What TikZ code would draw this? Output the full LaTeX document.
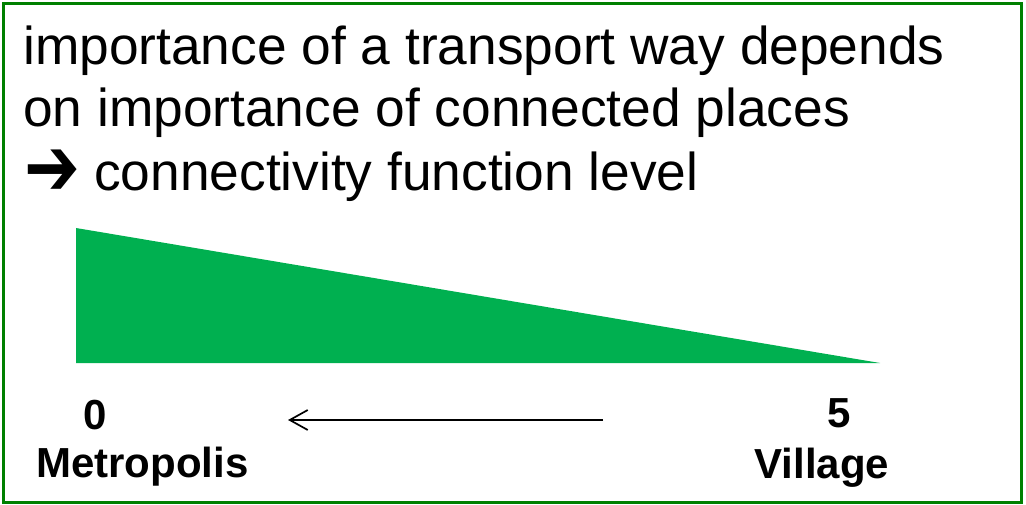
\documentclass[tikz,border=0pt]{standalone}
\usepackage{fontspec}
\setmainfont{Liberation Sans}
\newfontfamily\symfont{DejaVu Sans}
\usetikzlibrary{arrows.meta}
\definecolor{framegreen}{RGB}{0,128,0}
\definecolor{fillgreen}{RGB}{0,176,80}
\begin{document}
\begin{tikzpicture}[x=1pt,y=-1pt,
  headline/.style={anchor=base west, inner sep=0pt, font=\fontsize{53.3}{63}\selectfont},
  botlabel/.style={anchor=base, inner sep=0pt, font=\fontsize{42}{48}\selectfont\bfseries}]
\useasboundingbox (0,0) rectangle (1026,505);
\draw[framegreen, line width=3pt] (3,3.5) rectangle (1021,502);
\node[headline] (l1) at (23,65) {importance of a transport way depends};
\node[headline] (l2) at (23,127) {on importance of connected places};
\node[headline, anchor=west] (l3a) at (24,172.5) {\scalebox{1.25}[1.55]{\symfont ➔}};
\node[headline] (l3) at (94,191) {connectivity function level};
\fill[fillgreen] (76,228) -- (76,363) -- (880,363) -- cycle;
\node[botlabel] (zero) at (95,429) {0};
\node[botlabel] (five) at (839,427) {5};
\node[botlabel] (metro) at (142.5,477) {Metropolis};
\node[botlabel] (village) at (822,478) {Village};
\coordinate (arrstart) at (603,420);
\coordinate (arrend) at (288,420);
\draw[-{Straight Barb[length=18pt,width=20pt]}, line width=1.7pt] (arrstart) -- (arrend);
\end{tikzpicture}
\end{document}
